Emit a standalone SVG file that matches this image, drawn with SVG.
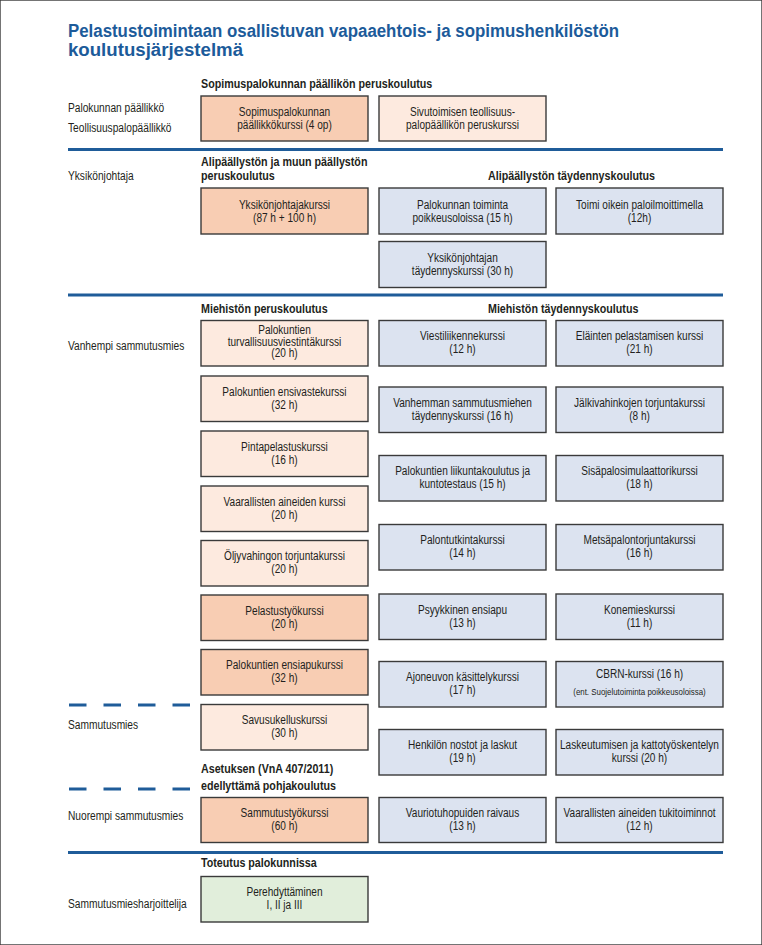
<svg xmlns="http://www.w3.org/2000/svg" width="762" height="945" viewBox="0 0 762 945">
<style>
text { font-family: "Liberation Sans", Arial, sans-serif; font-size: 12.5px; fill: #231f20; }
.title { font-size: 18px; font-weight: bold; fill: #1c5b9a; }
.c { text-anchor: middle; transform-box: fill-box; transform-origin: center; transform: scaleX(0.806); }
.l { transform-box: fill-box; transform-origin: left center; transform: scaleX(0.815); }
.h { font-weight: bold; transform-box: fill-box; transform-origin: left center; transform: scaleX(0.857); }
.s { font-size: 9.8px; }
rect { stroke: #3a3a3a; stroke-width: 1.4; }
.sal { fill: #f8cdb3; }
.pea { fill: #fdeadf; }
.blu { fill: #dce3f0; }
.grn { fill: #e1eedb; }
.sep { stroke: #1f5c99; stroke-width: 3; fill: none; }
.dash { stroke: #1f5c99; stroke-width: 3; stroke-dasharray: 17.5 17; fill: none; }
</style>
<rect width="762" height="945" fill="#ffffff" stroke="none"/>

<g id="title">
<text class="title" x="68" y="37" textLength="551" lengthAdjust="spacingAndGlyphs">Pelastustoimintaan osallistuvan vapaaehtois- ja sopimushenkilöstön</text>
<text class="title" x="68" y="56" textLength="175" lengthAdjust="spacingAndGlyphs">koulutusjärjestelmä</text>
</g>

<g id="separators">
<line class="sep" x1="68" y1="149.5" x2="723" y2="149.5"/>
<line class="sep" x1="68" y1="295" x2="723" y2="295"/>
<line class="sep" x1="68" y1="852.5" x2="723" y2="852.5"/>
<line class="dash" x1="69" y1="705" x2="191" y2="705"/>
<line class="dash" x1="69" y1="789" x2="191" y2="789"/>
</g>

<g id="row-labels">
<text class="l" x="68" y="112">Palokunnan päällikkö</text>
<text class="l" x="68" y="132">Teollisuuspalopäällikkö</text>
<text class="l" x="68" y="180">Yksikönjohtaja</text>
<text class="l" x="68" y="350">Vanhempi sammutusmies</text>
<text class="l" x="68" y="729">Sammutusmies</text>
<text class="l" x="68" y="820">Nuorempi sammutusmies</text>
<text class="l" x="68" y="908">Sammutusmiesharjoittelija</text>
</g>

<g id="headers">
<text class="h" x="201" y="88">Sopimuspalokunnan päällikön peruskoulutus</text>
<text class="h" x="201" y="166">Alipäällystön ja muun päällystön</text>
<text class="h" x="201" y="180">peruskoulutus</text>
<text class="h" x="488" y="180">Alipäällystön täydennyskoulutus</text>
<text class="h" x="201" y="313">Miehistön peruskoulutus</text>
<text class="h" x="488" y="313">Miehistön täydennyskoulutus</text>
<text class="h" x="201" y="773">Asetuksen (VnA 407/2011)</text>
<text class="h" x="201" y="790">edellyttämä pohjakoulutus</text>
<text class="h" x="201" y="867">Toteutus palokunnissa</text>
</g>

<g id="n-sopimuspalokunnan-paallikkokurssi"><rect class="sal" x="201" y="96" width="167" height="45"/><text class="c" x="284.5" y="116">Sopimuspalokunnan</text><text class="c" x="284.5" y="129">päällikkökurssi (4 op)</text></g>
<g id="n-sivutoimisen"><rect class="pea" x="379" y="96" width="167" height="45"/><text class="c" x="462.5" y="116">Sivutoimisen teollisuus-</text><text class="c" x="462.5" y="129">palopäällikön peruskurssi</text></g>

<g id="n-yksikonjohtajakurssi"><rect class="sal" x="201" y="188" width="167" height="46"/><text class="c" x="284.5" y="209">Yksikönjohtajakurssi</text><text class="c" x="284.5" y="222">(87 h + 100 h)</text></g>
<g id="n-palokunnan-toiminta"><rect class="blu" x="379" y="188" width="167" height="46"/><text class="c" x="462.5" y="209">Palokunnan toiminta</text><text class="c" x="462.5" y="222">poikkeusoloissa (15 h)</text></g>
<g id="n-toimi-oikein"><rect class="blu" x="556" y="188" width="167" height="46"/><text class="c" x="639.5" y="209">Toimi oikein paloilmoittimella</text><text class="c" x="639.5" y="222">(12h)</text></g>
<g id="n-yksikonjohtajan-taydennys"><rect class="blu" x="379" y="241.5" width="167" height="46"/><text class="c" x="462.5" y="262.5">Yksikönjohtajan</text><text class="c" x="462.5" y="275.5">täydennyskurssi (30 h)</text></g>

<g id="n-turvallisuusviestinta"><rect class="pea" x="201" y="320.5" width="167" height="45.5"/><text class="c" x="284.5" y="334.5">Palokuntien</text><text class="c" x="284.5" y="346">turvallisuusviestintäkurssi</text><text class="c" x="284.5" y="357.5">(20 h)</text></g>
<g id="n-ensivaste"><rect class="pea" x="201" y="376" width="167" height="45.5"/><text class="c" x="284.5" y="396">Palokuntien ensivastekurssi</text><text class="c" x="284.5" y="409">(32 h)</text></g>
<g id="n-pintapelastus"><rect class="pea" x="201" y="431" width="167" height="45.5"/><text class="c" x="284.5" y="451">Pintapelastuskurssi</text><text class="c" x="284.5" y="464">(16 h)</text></g>
<g id="n-vaaralliset-aineet"><rect class="pea" x="201" y="486" width="167" height="45.5"/><text class="c" x="284.5" y="506">Vaarallisten aineiden kurssi</text><text class="c" x="284.5" y="519">(20 h)</text></g>
<g id="n-oljyvahinko"><rect class="pea" x="201" y="540.5" width="167" height="45.5"/><text class="c" x="284.5" y="560.5">Öljyvahingon torjuntakurssi</text><text class="c" x="284.5" y="573.5">(20 h)</text></g>
<g id="n-pelastustyo"><rect class="sal" x="201" y="595" width="167" height="45.5"/><text class="c" x="284.5" y="615">Pelastustyökurssi</text><text class="c" x="284.5" y="628">(20 h)</text></g>
<g id="n-ensiapu"><rect class="sal" x="201" y="649.5" width="167" height="45.5"/><text class="c" x="284.5" y="669.5">Palokuntien ensiapukurssi</text><text class="c" x="284.5" y="682.5">(32 h)</text></g>
<g id="n-savusukellus"><rect class="pea" x="201" y="704.5" width="167" height="45.5"/><text class="c" x="284.5" y="724.5">Savusukelluskurssi</text><text class="c" x="284.5" y="737.5">(30 h)</text></g>
<g id="n-sammutustyo"><rect class="sal" x="201" y="797.5" width="167" height="45"/><text class="c" x="284.5" y="817.5">Sammutustyökurssi</text><text class="c" x="284.5" y="830.5">(60 h)</text></g>
<g id="n-perehdyttaminen"><rect class="grn" x="201" y="876.5" width="167" height="45.5"/><text class="c" x="284.5" y="896.5">Perehdyttäminen</text><text class="c" x="284.5" y="909.5">I, II ja III</text></g>

<g id="n-viestiliikenne"><rect class="blu" x="379" y="320.5" width="167" height="45.5"/><text class="c" x="462.5" y="340.5">Viestiliikennekurssi</text><text class="c" x="462.5" y="353.5">(12 h)</text></g>
<g id="n-elainten-pelastaminen"><rect class="blu" x="556" y="320.5" width="167" height="45.5"/><text class="c" x="639.5" y="340.5">Eläinten pelastamisen kurssi</text><text class="c" x="639.5" y="353.5">(21 h)</text></g>
<g id="n-vanhemman-taydennys"><rect class="blu" x="379" y="387" width="167" height="45.5"/><text class="c" x="462.5" y="407">Vanhemman sammutusmiehen</text><text class="c" x="462.5" y="420">täydennyskurssi (16 h)</text></g>
<g id="n-jalkivahinko"><rect class="blu" x="556" y="387" width="167" height="45.5"/><text class="c" x="639.5" y="407">Jälkivahinkojen torjuntakurssi</text><text class="c" x="639.5" y="420">(8 h)</text></g>
<g id="n-liikuntakoulutus"><rect class="blu" x="379" y="455.5" width="167" height="45.5"/><text class="c" x="462.5" y="475.5">Palokuntien liikuntakoulutus ja</text><text class="c" x="462.5" y="488.5">kuntotestaus (15 h)</text></g>
<g id="n-sisapalosimulaattori"><rect class="blu" x="556" y="455.5" width="167" height="45.5"/><text class="c" x="639.5" y="475.5">Sisäpalosimulaattorikurssi</text><text class="c" x="639.5" y="488.5">(18 h)</text></g>
<g id="n-palontutkinta"><rect class="blu" x="379" y="524.5" width="167" height="45.5"/><text class="c" x="462.5" y="544.5">Palontutkintakurssi</text><text class="c" x="462.5" y="557.5">(14 h)</text></g>
<g id="n-metsapalo"><rect class="blu" x="556" y="524.5" width="167" height="45.5"/><text class="c" x="639.5" y="544.5">Metsäpalontorjuntakurssi</text><text class="c" x="639.5" y="557.5">(16 h)</text></g>
<g id="n-psyykkinen"><rect class="blu" x="379" y="594" width="167" height="45.5"/><text class="c" x="462.5" y="614">Psyykkinen ensiapu</text><text class="c" x="462.5" y="627">(13 h)</text></g>
<g id="n-konemies"><rect class="blu" x="556" y="594" width="167" height="45.5"/><text class="c" x="639.5" y="614">Konemieskurssi</text><text class="c" x="639.5" y="627">(11 h)</text></g>
<g id="n-ajoneuvo"><rect class="blu" x="379" y="661.5" width="167" height="45.5"/><text class="c" x="462.5" y="681.5">Ajoneuvon käsittelykurssi</text><text class="c" x="462.5" y="694.5">(17 h)</text></g>
<g id="n-cbrn"><rect class="blu" x="556" y="661.5" width="167" height="45.5"/><text class="c" x="639.5" y="678">CBRN-kurssi (16 h)</text><text class="c s" x="639.5" y="695">(ent. Suojelutoiminta poikkeusoloissa)</text></g>
<g id="n-henkilon-nostot"><rect class="blu" x="379" y="729.5" width="167" height="45.5"/><text class="c" x="462.5" y="749.5">Henkilön nostot ja laskut</text><text class="c" x="462.5" y="762.5">(19 h)</text></g>
<g id="n-laskeutuminen"><rect class="blu" x="556" y="729.5" width="167" height="45.5"/><text class="c" x="639.5" y="749.5">Laskeutumisen ja kattotyöskentelyn</text><text class="c" x="639.5" y="762.5">kurssi (20 h)</text></g>
<g id="n-vauriotuhopuut"><rect class="blu" x="379" y="797.5" width="167" height="45"/><text class="c" x="462.5" y="817.5">Vauriotuhopuiden raivaus</text><text class="c" x="462.5" y="830.5">(13 h)</text></g>
<g id="n-vaaralliset-tukitoiminnot"><rect class="blu" x="556" y="797.5" width="167" height="45"/><text class="c" x="639.5" y="817.5">Vaarallisten aineiden tukitoiminnot</text><text class="c" x="639.5" y="830.5">(12 h)</text></g>
</svg>
